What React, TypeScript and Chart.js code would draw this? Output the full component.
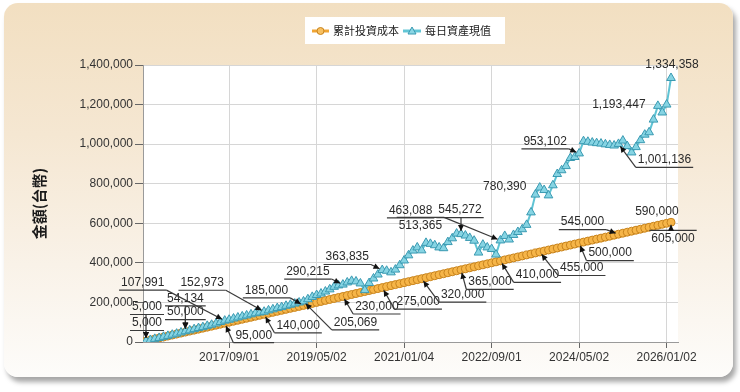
import React, { useEffect, useRef } from "react";
import { Chart, registerables } from "chart.js";
Chart.register(...registerables);

const seriesNames = ["累計投資成本", "每日資產現值"];
const yTitle = "金額(台幣)";

const costValues = [
  5000, 10000, 15000, 20000, 25000, 30000, 35000, 40000, 45000, 50000,
  55000, 60000, 65000, 70000, 75000, 80000, 85000, 90000, 95000, 100000,
  105000, 110000, 115000, 120000, 125000, 130000, 135000, 140000, 145000, 150000,
  155000, 160000, 165000, 170000, 175000, 180000, 185000, 190000, 195000, 200000,
  205000, 210000, 215000, 220000, 225000, 230000, 235000, 240000, 245000, 250000,
  255000, 260000, 265000, 270000, 275000, 280000, 285000, 290000, 295000, 300000,
  305000, 310000, 315000, 320000, 325000, 330000, 335000, 340000, 345000, 350000,
  355000, 360000, 365000, 370000, 375000, 380000, 385000, 390000, 395000, 400000,
  405000, 410000, 415000, 420000, 425000, 430000, 435000, 440000, 445000, 450000,
  455000, 460000, 465000, 470000, 475000, 480000, 485000, 490000, 495000, 500000,
  505000, 510000, 515000, 520000, 525000, 530000, 535000, 540000, 545000, 550000,
  555000, 560000, 565000, 570000, 575000, 580000, 585000, 590000, 595000, 600000,
  605000,
];

const assetValues = [
  5000, 10300, 15800, 20500, 26100, 31000, 36900, 42200, 48100, 54134,
  58800, 64900, 70300, 75100, 81600, 87200, 93500, 100800, 107991, 112400,
  118600, 123900, 129500, 134200, 139800, 145100, 149000, 152973, 159800, 165100,
  171400, 176200, 182900, 188300, 194100, 199500, 205069, 216000, 228000, 237500,
  245000, 255000, 266000, 279000, 286000, 290215, 301000, 309000, 306000, 296000,
  262000, 298000, 321000, 341000, 363835, 360000, 352000, 366000, 388000, 412000,
  438000, 462000, 478000, 463088, 501000, 496000, 489000, 478000, 474000, 505000,
  524000, 548000, 545272, 538000, 526000, 512000, 452000, 492000, 478000, 470000,
  442000, 513365, 536000, 518000, 541000, 556000, 570000, 592000, 655000, 745000,
  780390, 768000, 741000, 792000, 849000, 868000, 889000, 930000, 935000, 953102,
  1015000, 1012000, 1008000, 1005000, 1003000, 999000, 996000, 993000, 1001136, 1018000,
  990000, 958000, 985000, 1020000, 1048000, 1060000, 1124000, 1193447, 1160000, 1200000,
  1334358,
];

const tickIndices = [19, 39, 59, 79, 99, 119];
const tickLabels = ["2017/09/01", "2019/05/02", "2021/01/04", "2022/09/01", "2024/05/02", "2026/01/02"];
const yMax = 1400000;
const yStep = 200000;

const labelIndices = [0, 9, 18, 27, 36, 45, 54, 63, 72, 81, 90, 99, 108, 117, 120];

// label placement (style): [dx, dy, leader mode]
const costPlace: [number, number, string][] = [
  [1, -18, "C"], [0, -20, "C"], [29, 12, "L"], [34, 11, "L"], [-37, -15, "R"],
  [34, 10, "L"], [36, 14, "L"], [41, 16, "L"], [29, 12, "L"], [37, 14, "L"],
  [42, 16, "L"], [31, 10, "L"], [-36, -12, "R"], [-1, -14, "N"], [2, 16, "T"],
];
const assetPlace: [number, number, string][] = [
  [1, -34, "C"], [0, -33, "C"], [-82, -38, "R"], [-62, -29, "R"], [52, 21, "L"],
  [-35, -13, "R"], [-35, -13, "R"], [-11, -40, "U"], [-1, -24, "C"], [-80, -15, "OR"],
  [-35, -1, "N"], [-34, -12, "R"], [46, 16, "L"], [-39, -1, "N"], [1, -13, "N"],
];

const fmt = (v: number) => v.toLocaleString("en-US");

function arrow(ctx: CanvasRenderingContext2D, x0: number, y0: number, x1: number, y1: number) {
  const a = Math.atan2(y1 - y0, x1 - x0);
  const len = Math.hypot(x1 - x0, y1 - y0);
  const ex = x1 - Math.cos(a) * Math.min(3, len * 0.3);
  const ey = y1 - Math.sin(a) * Math.min(3, len * 0.3);
  ctx.beginPath();
  ctx.moveTo(x0, y0);
  ctx.lineTo(ex, ey);
  ctx.stroke();
  const s = 6, w = 3;
  ctx.beginPath();
  ctx.moveTo(ex, ey);
  ctx.lineTo(ex - s * Math.cos(a) + w * Math.sin(a), ey - s * Math.sin(a) - w * Math.cos(a));
  ctx.lineTo(ex - s * Math.cos(a) - w * Math.sin(a), ey - s * Math.sin(a) + w * Math.cos(a));
  ctx.closePath();
  ctx.fill();
}

const calloutPlugin = {
  id: "callouts",
  afterDatasetsDraw(chart: any) {
    const ctx: CanvasRenderingContext2D = chart.ctx;
    const xs = chart.scales.x, ys = chart.scales.y;
    ctx.save();
    ctx.font = '12px "Liberation Sans", Arial, sans-serif';
    ctx.textAlign = "center";
    ctx.textBaseline = "middle";
    ctx.strokeStyle = "#3a3a3a";
    ctx.fillStyle = "#222";
    ctx.lineWidth = 1.2;
    const drawSet = (values: number[], places: [number, number, string][]) => {
      labelIndices.forEach((i, k) => {
        const [dx, dy, mode] = places[k];
        const px = xs.getPixelForValue(i);
        const py = ys.getPixelForValue(values[i]);
        const tx = px + dx, ty = py + dy;
        const text = fmt(values[i]);
        const w = ctx.measureText(text).width;
        const l = tx - w / 2 - 2, r = tx + w / 2 + 2;
        ctx.fillStyle = "#2a2a2a";
        ctx.fillText(text, tx, ty);
        const uy = ty + 7.5, oy = ty - 8;
        ctx.fillStyle = "#111";
        if (mode === "C" || mode === "L" || mode === "R" || mode === "U") {
          ctx.beginPath(); ctx.moveTo(l, uy); ctx.lineTo(r, uy); ctx.stroke();
        }
        if (mode === "T" || mode === "OR") {
          ctx.beginPath(); ctx.moveTo(l, oy); ctx.lineTo(r, oy); ctx.stroke();
        }
        if (mode === "C") arrow(ctx, Math.min(Math.max(px, l), r), uy, px, py);
        if (mode === "L") arrow(ctx, l, uy, px, py);
        if (mode === "R") arrow(ctx, r, uy, px, py);
        if (mode === "T") arrow(ctx, px, oy, px, py);
        if (mode === "OR") arrow(ctx, r, oy, px, py);
      });
    };
    drawSet(costValues, costPlace);
    drawSet(assetValues, assetPlace);
    ctx.restore();
  },
};

const bgPlugin = {
  id: "plotbg",
  beforeDraw(chart: any) {
    const { ctx, chartArea } = chart;
    ctx.save();
    ctx.fillStyle = "#ffffff";
    ctx.fillRect(chartArea.left, chartArea.top, chartArea.right - chartArea.left, chartArea.bottom - chartArea.top);
    ctx.restore();
  },
};

const legendPlugin = {
  id: "customLegend",
  afterDraw(chart: any) {
    const ctx: CanvasRenderingContext2D = chart.ctx;
    ctx.save();
    ctx.fillStyle = "#ffffff";
    ctx.fillRect(305, 17, 200, 27);
    const y = 31;
    // item 1
    ctx.strokeStyle = "#f0a534";
    ctx.lineWidth = 3;
    ctx.beginPath(); ctx.moveTo(312, y); ctx.lineTo(329, y); ctx.stroke();
    ctx.beginPath(); ctx.arc(320.5, y, 3.5, 0, Math.PI * 2);
    ctx.fillStyle = "#f8c060"; ctx.fill();
    ctx.lineWidth = 1; ctx.strokeStyle = "#c8841e"; ctx.stroke();
    // item 2
    ctx.strokeStyle = "#62c6d6";
    ctx.lineWidth = 3;
    ctx.beginPath(); ctx.moveTo(403, y); ctx.lineTo(421, y); ctx.stroke();
    ctx.beginPath();
    ctx.moveTo(412, y - 4); ctx.lineTo(416, y + 3); ctx.lineTo(408, y + 3); ctx.closePath();
    ctx.fillStyle = "#8ad6e4"; ctx.fill();
    ctx.lineWidth = 1; ctx.strokeStyle = "#3a9ab2"; ctx.stroke();
    ctx.fillStyle = "#222";
    ctx.font = '11px "Noto Sans CJK TC", sans-serif';
    ctx.textAlign = "left";
    ctx.textBaseline = "middle";
    ctx.fillText(seriesNames[0], 333, y);
    ctx.fillText(seriesNames[1], 425, y);
    ctx.restore();
  },
};

export default function App() {
  const ref = useRef<HTMLCanvasElement>(null);
  useEffect(() => {
    if (!ref.current) return;
    const chart = new Chart(ref.current, {
      type: "line",
      data: {
        datasets: [
          {
            label: seriesNames[1],
            data: assetValues.map((v, i) => ({ x: i, y: v })),
            borderColor: "#5fc3d4",
            borderWidth: 2,
            backgroundColor: "#8ad6e4",
            pointStyle: "triangle",
            pointRadius: 5,
            pointBorderColor: "#3a9ab2",
            pointBorderWidth: 1,
            pointBackgroundColor: "#86d4e3",
            tension: 0,
            order: 0,
          },
          {
            label: seriesNames[0],
            data: costValues.map((v, i) => ({ x: i, y: v })),
            borderColor: "#f0a534",
            borderWidth: 3,
            backgroundColor: "#f6b548",
            pointStyle: "circle",
            pointRadius: 4,
            pointBorderColor: "#c8841e",
            pointBorderWidth: 1,
            pointBackgroundColor: "#f6b548",
            tension: 0,
            order: 1,
          },
        ],
      },
      options: {
        responsive: false,
        devicePixelRatio: 1,
        animation: false,
        layout: { padding: { left: 30, right: 62, top: 65, bottom: 20 } },
        plugins: { legend: { display: false }, tooltip: { enabled: false } },
        scales: {
          x: {
            type: "linear",
            min: -0.686,
            max: 121.6,
            afterBuildTicks: (scale: any) => {
              scale.ticks = tickIndices.map((v) => ({ value: v }));
            },
            afterFit: (scale: any) => {
              scale.height = 30;
            },
            ticks: {
              autoSkip: false,
              maxRotation: 0,
              padding: 2,
              color: "#333",
              font: { family: '"Liberation Sans", Arial, sans-serif', size: 12 },
              callback: (v: any) => {
                const k = tickIndices.indexOf(Number(v));
                return k >= 0 ? tickLabels[k] : "";
              },
            },
            grid: { color: "#d6d6d6", tickColor: "#666", tickLength: 6, lineWidth: 1 },
            border: { color: "#9a9a9a" },
          },
          y: {
            min: 0,
            max: yMax,
            afterFit: (scale: any) => {
              scale.width = 113;
            },
            ticks: {
              stepSize: yStep,
              padding: 2,
              color: "#333",
              font: { family: '"Liberation Sans", Arial, sans-serif', size: 12 },
              callback: (v: any) => fmt(Number(v)),
            },
            grid: { color: "#d6d6d6", tickColor: "#666", tickLength: 8, lineWidth: 1 },
            border: { color: "#9a9a9a" },
            title: {
              display: true,
              text: yTitle,
              color: "#1a1a1a",
              padding: 0,
              font: { family: '"Noto Sans CJK TC", sans-serif', size: 15, weight: "bold" },
            },
          },
        },
      },
      plugins: [bgPlugin, calloutPlugin, legendPlugin],
    } as any);
    return () => chart.destroy();
  }, []);

  return (
    <div style={{ position: "fixed", left: 0, top: 0, width: 740, height: 392, background: "#ffffff", overflow: "hidden" }}>
      <div
        style={{
          position: "absolute",
          left: 4,
          top: 3,
          width: 729,
          height: 374,
          borderRadius: 14,
          background: "linear-gradient(180deg, #f2dfc1 0%, #f5e7d2 35%, #f9f2e8 70%, #fdfcfa 100%)",
          boxShadow: "3px 5px 5px rgba(0,0,0,0.35)",
        }}
      />
      <canvas ref={ref} width={740} height={392} style={{ position: "absolute", left: 0, top: 0, display: "block" }} />
    </div>
  );
}
